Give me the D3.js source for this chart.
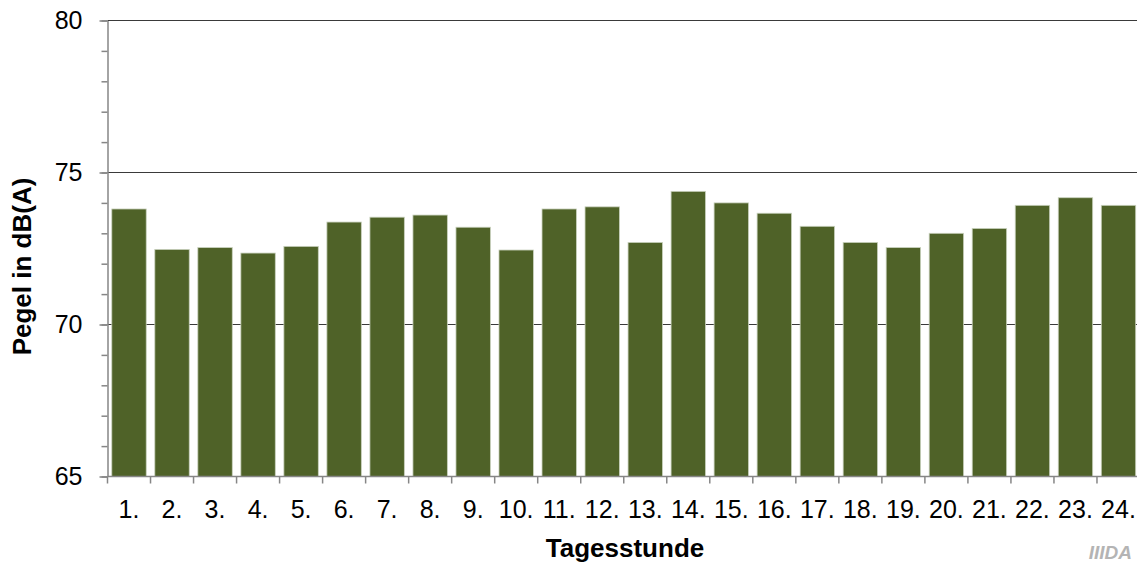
<!DOCTYPE html>
<html>
<head>
<meta charset="utf-8">
<script src="https://cdn.jsdelivr.net/npm/d3@7"></script>
<style>
  body { margin: 0; background: #fff; }
  svg { display: block; font-family: "Liberation Sans", Arial, sans-serif; }
</style>
</head>
<body>
<svg id="chart" width="1137" height="566"></svg>
<script>
// hours of the day and mean level per hour
const hours = ["1.", "2.", "3.", "4.", "5.", "6.", "7.", "8.", "9.", "10.", "11.", "12.",
	"13.", "14.", "15.", "16.", "17.", "18.", "19.", "20.", "21.", "22.", "23.", "24."];
const levels = [73.8, 72.47, 72.53, 72.35, 72.57, 73.37, 73.53, 73.6, 73.2, 72.45, 73.8, 73.87,
	72.7, 74.38, 74.0, 73.66, 73.23, 72.7, 72.53, 73.0, 73.16, 73.92, 74.17, 73.92];
const yMajor = [65, 70, 75, 80];
const yMinor = d3.range(65, 81, 1);

const svg = d3.select("#chart");
const plotL = 107.5, plotR = 1140, plotT = 20.5, plotB = 476.5;

const x = d3.scaleBand().domain(hours).range([plotL, plotR]).paddingInner(0.2).paddingOuter(0.1);
const y = d3.scaleLinear().domain([65, 80]).range([plotB, plotT]);

// gridlines behind bars
svg.append("g")
	.selectAll("line")
	.data(yMajor.filter(d => d > 65))
	.enter().append("line")
		.attr("x1", plotL).attr("x2", 1137)
		.attr("y1", d => y(d)).attr("y2", d => y(d))
		.attr("stroke", "#3a3a3a")
		.attr("stroke-width", 1.2);

// bars
svg.append("g")
	.selectAll("rect")
	.data(levels)
	.enter().append("rect")
		.attr("x", (d, i) => x(hours[i]))
		.attr("width", x.bandwidth())
		.attr("y", d => y(d))
		.attr("height", d => y(65) - y(d))
		.attr("fill", "#4f6228")
		.attr("stroke", "#c9d1bd")
		.attr("stroke-width", 0.8);

// y axis: minor ticks, then major with labels
svg.append("g")
	.attr("transform", `translate(${plotL},0)`)
	.call(d3.axisLeft(y).tickValues(yMinor).tickSize(6).tickFormat(""))
	.call(g => g.select(".domain").remove())
	.selectAll("line").attr("stroke", "#868686").attr("stroke-width", 1.5);

const yAxis = svg.append("g")
	.attr("transform", `translate(${plotL},0)`)
	.call(d3.axisLeft(y).tickValues(yMajor).tickSize(8).tickPadding(17).tickSizeOuter(0));
yAxis.select(".domain").attr("stroke", "#868686").attr("stroke-width", 1.5);
yAxis.selectAll("line").attr("stroke", "#868686").attr("stroke-width", 1.5);
yAxis.selectAll("text").attr("font-size", 25).attr("fill", "#000")
	.attr("font-family", "Liberation Sans, Arial, sans-serif");

// x axis: ticks between categories
const xAxis = svg.append("g")
	.attr("transform", `translate(0,${plotB})`);
xAxis.append("line")
	.attr("x1", plotL).attr("x2", 1137)
	.attr("stroke", "#868686").attr("stroke-width", 1.5);
xAxis.selectAll("line.tick")
	.data(hours)
	.enter().append("line")
		.attr("class", "tick")
		.attr("x1", (d, i) => plotL + i * x.step())
		.attr("x2", (d, i) => plotL + i * x.step())
		.attr("y1", 0).attr("y2", 7)
		.attr("stroke", "#868686").attr("stroke-width", 1.5);
xAxis.selectAll("text")
	.data(hours)
	.enter().append("text")
		.attr("x", d => x(d) + x.bandwidth() / 2)
		.attr("y", 41.5)
		.attr("text-anchor", "middle")
		.attr("font-size", 25)
		.text(d => d);

// axis titles
svg.append("text")
	.attr("transform", "translate(31,266.5) rotate(-90)")
	.attr("text-anchor", "middle")
	.attr("font-size", 26)
	.attr("font-weight", "bold")
	.text("Pegel in dB(A)");

svg.append("text")
	.attr("x", 625).attr("y", 556.5)
	.attr("text-anchor", "middle")
	.attr("font-size", 26)
	.attr("font-weight", "bold")
	.text("Tagesstunde");

// watermark logo in the corner
svg.append("text")
	.attr("x", 1132).attr("y", 559)
	.attr("text-anchor", "end")
	.attr("font-size", 19)
	.attr("font-weight", "bold")
	.attr("font-style", "italic")
	.attr("fill", "#b4b4b4")
	.text("IIIDA");
</script>
</body>
</html>
